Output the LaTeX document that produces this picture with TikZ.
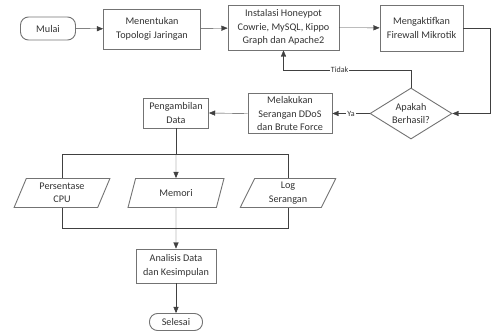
\documentclass[tikz,border=0pt]{standalone}
\usepackage{fontspec}
\setmainfont{Carlito}
\usepackage{tikz}
\usetikzlibrary{arrows}
\usetikzlibrary{shapes.geometric}
\tikzset{%
  myedge/.style={->, shorten >=0pt, >=triangle 45, draw=black!75},
  myline/.style={draw=black!75},
  mybox/.style={rectangle, draw=black!55, line width=0.9pt, align=center, inner sep=1pt},
  myterm/.style={rectangle, rounded corners=8pt, draw=black!55, line width=0.9pt, inner sep=1pt},
  mydia/.style={diamond, aspect=1.6, draw=black!55, line width=0.9pt, align=center, inner sep=0pt},
  mypar/.style={trapezium, trapezium left angle=70, trapezium right angle=110, trapezium stretches=true,
    draw=black!55, line width=0.9pt, align=center, inner sep=1pt, minimum width=96pt, minimum height=29pt},
  mylabel/.style={fill=white, inner sep=1pt, font=\fontsize{8}{9}\selectfont}
}

\begin{document}
\begin{tikzpicture}[x=1pt, y=-1pt, font=\fontsize{10.2}{13.5}\selectfont, text=black!80]
\useasboundingbox (0,0) rectangle (493,331);

% kotak
\node (mulai) [myterm, minimum width=55pt, minimum height=23pt] at (48,28.5) {Mulai};
\node (topo) [mybox, minimum width=97pt, minimum height=40pt] at (152,29) {Menentukan\\Topologi Jaringan};
\node (inst) [mybox, minimum width=111pt, minimum height=45pt] at (283.5,27.5) {Instalasi Honeypot\\Cowrie, MySQL, Kippo\\Graph dan Apache2};
\node (fw) [mybox, minimum width=83pt, minimum height=46pt] at (421.5,28) {Mengaktifkan\\Firewall Mikrotik};
\node (cek) [mydia, minimum width=82pt, minimum height=51pt] at (411,113.5) {Apakah\\Berhasil?};
\node (serang) [mybox, minimum width=84pt, minimum height=40pt] at (290,113.5) {Melakukan\\Serangan DDoS\\dan Brute Force};
\node (ambil) [mybox, minimum width=65pt, minimum height=30pt] at (176,113) {Pengambilan\\Data};

\node (cpu) [mypar] at (62,193) {Persentase\\CPU};
\node (mem) [mypar] at (176,193) {Memori};
\node (log) [mypar] at (288,193) {Log\\Serangan};

\node (analisis) [mybox, minimum width=80pt, minimum height=34pt] at (176,266) {Analisis Data\\dan Kesimpulan};
\node (selesai) [myterm, minimum width=53pt, minimum height=17pt] at (176,322) {Selesai};

\coordinate (kanan) at (490,28);
\coordinate (tidak) at (411,70);
\coordinate (cabang) at (176,154);
\coordinate (gabung) at (176,228);

% panah
\draw [myedge] (mulai) -- (topo);
\draw [myedge] (topo) -- (inst);
\draw [myedge] (inst) -- (fw);
\draw [myedge] (fw.east) -- (kanan) |- (cek.east);
\draw [myedge] (cek.north) -- (tidak) -| node [mylabel, pos=0.28] {Tidak} (inst.south);
\draw [myedge] (cek.west) -- node [mylabel] {Ya} (serang.east);
\draw [myedge] (serang.west) -- (ambil.east);

\draw [myline] (ambil.south) -- (cabang);
\draw [myline] (cpu.north) -- (cpu.north |- cabang) -- (log.north |- cabang) -- (log.north);
\draw [myedge] (cabang) -- (mem.north);

\draw [myline] (cpu.south) |- (log.south |- gabung) -- (log.south);
\draw [myedge] (mem.south) -- (analisis.north);
\draw [myedge] (analisis) -- (selesai);
\end{tikzpicture}
\end{document}
